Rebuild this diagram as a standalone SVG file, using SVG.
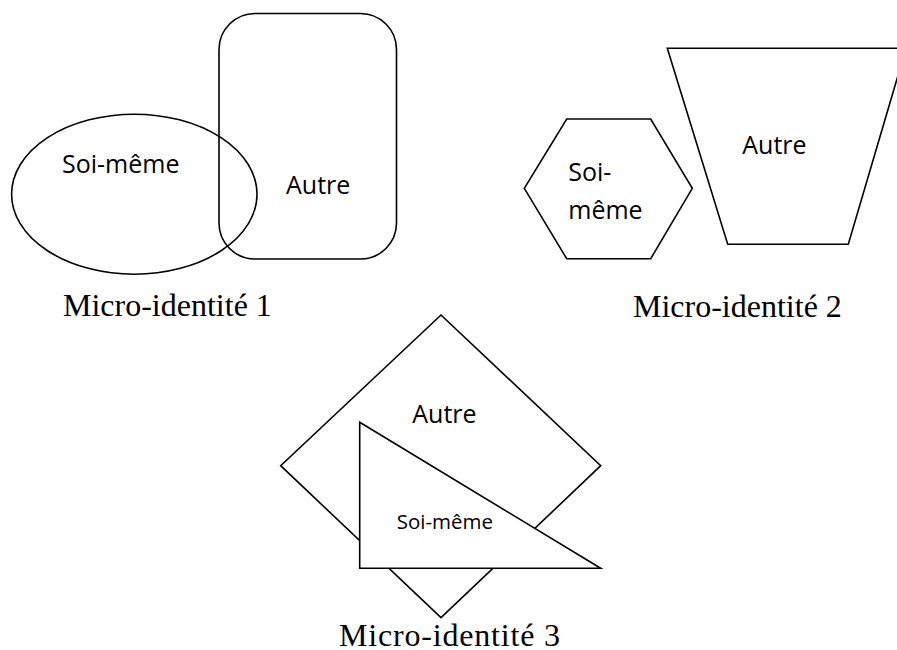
<svg xmlns="http://www.w3.org/2000/svg" width="897" height="650" viewBox="0 0 897 650">
  <style>
    .shape { fill: none; stroke: #000; stroke-width: 1.6; stroke-linejoin: miter; }
    .filled { fill: #fff; stroke: #000; stroke-width: 1.6; }
    .lbl { font-family: "Open Sans", "Noto Sans", sans-serif; font-size: 25px; fill: #000; }
    .small { font-size: 20.5px; }
    .cap { font-family: "Liberation Serif", "Times New Roman", serif; font-size: 32px; fill: #000; }
  </style>
  <rect width="897" height="650" fill="#fff"/>
  <g id="micro1">
    <g id="autre1">
      <rect class="shape" x="219" y="13.5" width="177.5" height="245.5" rx="36" ry="36"/>
      <text class="lbl" x="286" y="194">Autre</text>
    </g>
    <g id="soi1">
      <ellipse class="shape" cx="134.3" cy="194.2" rx="122.7" ry="80"/>
      <text class="lbl" x="62" y="173">Soi-même</text>
    </g>
    <text class="cap" x="63" y="316">Micro-identité 1</text>
  </g>
  <g id="micro2">
    <g id="soi2">
      <polygon class="shape" points="524.3,188.3 566.7,119 650.7,119 692.3,188.3 650.7,258.7 566.7,258.7"/>
      <text class="lbl" x="568.3" y="181">Soi-</text>
      <text class="lbl" x="568.3" y="219.3">même</text>
    </g>
    <g id="autre2">
      <polygon class="shape" points="667.3,48.3 906,48.3 848.3,244.3 727.7,244.3"/>
      <text class="lbl" x="742.3" y="154">Autre</text>
    </g>
    <text class="cap" x="633" y="316.7">Micro-identité 2</text>
  </g>
  <g id="micro3">
    <g id="autre3">
      <polygon class="shape" points="441,315 600.7,465.7 441,617.7 280.7,465.7"/>
      <text class="lbl" x="412.3" y="423">Autre</text>
    </g>
    <g id="soi3">
      <polygon class="filled" points="359.7,422.3 600.7,568.3 359.7,568.3"/>
      <text class="lbl small" x="396.7" y="528.7">Soi-même</text>
    </g>
    <text class="cap" x="339" y="645.5" textLength="221" lengthAdjust="spacing">Micro-identité 3</text>
  </g>
  <g id="connectors"/>
</svg>
